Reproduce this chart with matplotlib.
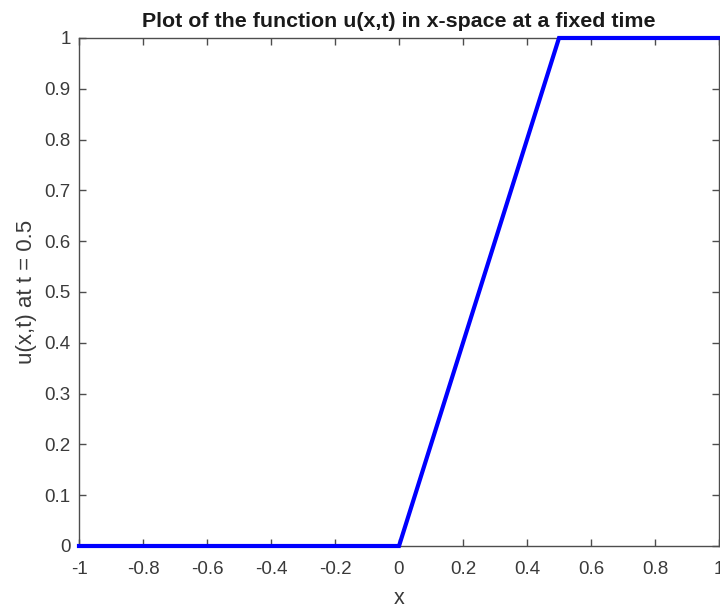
import matplotlib
matplotlib.use("Agg")
import matplotlib.pyplot as plt

# Piecewise-linear profile of u(x,t) at t = 0.5
x_vals = [-1.0, 0.0, 0.5, 1.0]
u_vals = [0.0, 0.0, 1.0, 1.0]

x_ticks = [-1, -0.8, -0.6, -0.4, -0.2, 0, 0.2, 0.4, 0.6, 0.8, 1]
x_tick_labels = ["-1", "-0.8", "-0.6", "-0.4", "-0.2", "0", "0.2", "0.4", "0.6", "0.8", "1"]
y_ticks = [0, 0.1, 0.2, 0.3, 0.4, 0.5, 0.6, 0.7, 0.8, 0.9, 1]
y_tick_labels = ["0", "0.1", "0.2", "0.3", "0.4", "0.5", "0.6", "0.7", "0.8", "0.9", "1"]

plt.rcParams["font.family"] = ["Liberation Sans", "DejaVu Sans"]

fig = plt.figure(figsize=(7.2, 6.08), dpi=100)
W, H = 720, 608
left, right, top, bottom = 79, 719, 38, 546
ax = fig.add_axes([left / W, 1 - bottom / H, (right - left) / W, (bottom - top) / H])

axis_col = "#4d4d4d"
text_col = "#3a3a3a"
ax.plot(x_vals, u_vals, color=(0, 0, 1), lw=3.0, solid_joinstyle="miter", clip_on=False, zorder=3)

ax.set_xlim(-1, 1)
ax.set_ylim(0, 1)
ax.set_xticks(x_ticks)
ax.set_xticklabels(x_tick_labels)
ax.set_yticks(y_ticks)
ax.set_yticklabels(y_tick_labels)
ax.tick_params(direction="in", length=5, width=1, colors=axis_col, labelsize=13.5,
               top=True, right=True, labelcolor=text_col)
ax.tick_params(axis="x", pad=11)
ax.tick_params(axis="y", pad=6)
for s in ax.spines.values():
    s.set_color(axis_col)
    s.set_linewidth(1.0)

ax.set_title("Plot of the function u(x,t) in x-space at a fixed time",
             fontsize=15.4, fontweight="bold", color="#1a1a1a", pad=8)
ax.set_xlabel("x", fontsize=15.5, color=text_col, labelpad=7)
ax.set_ylabel("u(x,t) at t = 0.5", fontsize=16, color=text_col, labelpad=5)

fig.savefig("out.png", dpi=100)
